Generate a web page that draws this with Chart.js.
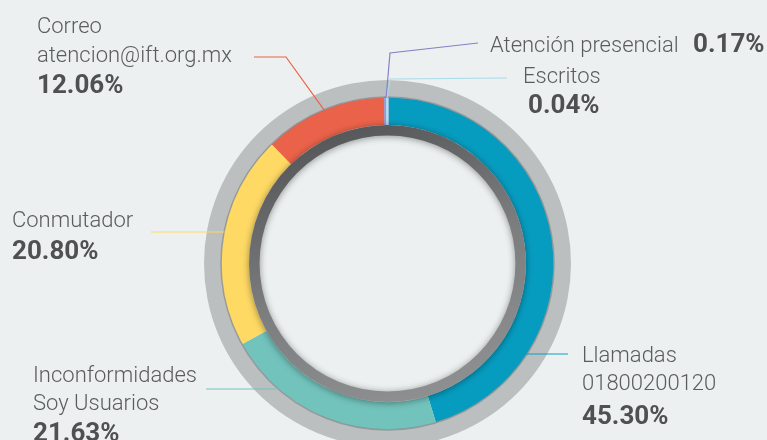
<!DOCTYPE html>
<html><head><meta charset="utf-8">
<script src="https://cdn.jsdelivr.net/npm/chart.js@4.4.0/dist/chart.umd.min.js"></script>
<style>
html,body{margin:0;padding:0;background:#ecf0f1;overflow:hidden;}
#wrap{width:767px;height:440px;position:relative;}
canvas{display:block;}
</style></head><body>
<div id="wrap"><canvas id="c" width="767" height="440"></canvas></div>
<script>
// ---- data ----
const categories = ['Llamadas 01800200120', 'Inconformidades Soy Usuarios', 'Conmutador', 'Correo atencion@ift.org.mx', 'Atención presencial', 'Escritos'];
const labelLines = [['Llamadas', '01800200120'], ['Inconformidades', 'Soy Usuarios'], ['Conmutador'], ['Correo', 'atencion@ift.org.mx'], ['Atención presencial'], ['Escritos']];
const shares = [45.30, 21.63, 20.80, 12.06, 0.17, 0.04];
const percentLabels = ['45.30%', '21.63%', '20.80%', '12.06%', '0.17%', '0.04%'];
const sliceColors = ['#069cc0', '#72c3bc', '#fed964', '#ea6249', '#9d9ad2', '#b3dff0'];
const leaderColors = ['#0d9dc2', '#72c3bc', '#fed964', '#ea6249', '#8682c6', '#a9dbeb'];

// ---- label layout (pixel positions) ----
const labelLayout = [
  {x: 582, ys: [362, 390], px: 582, py: 424, leader: {kind: 'h', x: 568, y: 354}},
  {x: 33, ys: [382, 410], px: 33, py: 441, leader: {kind: 'h', x: 206, y: 389}},
  {x: 12, ys: [227], px: 12, py: 259, leader: {kind: 'h', x: 151, y: 232}},
  {x: 37, ys: [33, 62], px: 37, py: 93, leader: {kind: 'elbow', pts: [[254, 57], [286, 57]]}},
  {x: 490, ys: [52], px: 693, py: 52, leader: {kind: 'elbow', pts: [[478, 43], [390, 53]]}},
  {x: 523, ys: [83], px: 528, py: 113, leader: {kind: 'elbow', pts: [[507, 78], [390, 79]]}}
];

const TAU = Math.PI * 2;
function ring(ctx, x, y, r1, r2) {
  ctx.beginPath();
  ctx.arc(x, y, r2, 0, TAU, false);
  ctx.arc(x, y, r1, 0, TAU, true);
  ctx.closePath();
}

const framePlugin = {
  id: 'frame',
  beforeDatasetsDraw(chart) {
    const ctx = chart.ctx;
    const a = chart.getDatasetMeta(0).data[0];
    ctx.save();
    ring(ctx, a.x, a.y, a.outerRadius - 1, a.outerRadius + 17.5);
    ctx.fillStyle = '#bcbfc0';
    ctx.fill();
    ctx.restore();
  },
  afterDatasetsDraw(chart) {
    const ctx = chart.ctx;
    const meta = chart.getDatasetMeta(0);
    const a = meta.data[0];
    const cx = a.x, cy = a.y, R = a.outerRadius, r = a.innerRadius;
    // thin edge line between gray frame and colored ring
    ctx.save();
    ctx.beginPath();
    ctx.arc(cx, cy, R + 0.5, 0, TAU);
    ctx.strokeStyle = 'rgba(125,128,130,0.6)';
    ctx.lineWidth = 1.5;
    ctx.stroke();
    ctx.restore();
    // dark inner ring with shading
    ctx.save();
    const g = ctx.createLinearGradient(cx - r * 0.35, cy - r, cx + r * 0.35, cy + r);
    g.addColorStop(0, '#545658');
    g.addColorStop(0.5, '#7a7c7e');
    g.addColorStop(1, '#8e9092');
    ctx.shadowColor = 'rgba(0,0,0,0.4)';
    ctx.shadowBlur = 7;
    ctx.shadowOffsetY = 1;
    ring(ctx, cx, cy, r - 10.5, r);
    ctx.fillStyle = g;
    ctx.fill();
    ctx.restore();

    // leader lines
    ctx.save();
    ctx.lineWidth = 1.2;
    labelLayout.forEach((L, i) => {
      const el = meta.data[i];
      ctx.strokeStyle = leaderColors[i];
      ctx.beginPath();
      if (L.leader.kind === 'h') {
        const dy = L.leader.y - cy;
        const dx = Math.sqrt(Math.max(R * R - dy * dy, 0));
        const ex = L.leader.x < cx ? cx - dx : cx + dx;
        ctx.moveTo(L.leader.x, L.leader.y);
        ctx.lineTo(ex, L.leader.y);
      } else {
        const mid = (el.startAngle + el.endAngle) / 2;
        const ex = cx + Math.cos(mid) * (R + 0.5);
        const ey = cy + Math.sin(mid) * (R + 0.5);
        ctx.moveTo(L.leader.pts[0][0], L.leader.pts[0][1]);
        for (let k = 1; k < L.leader.pts.length; k++) ctx.lineTo(L.leader.pts[k][0], L.leader.pts[k][1]);
        ctx.lineTo(ex, ey);
      }
      ctx.stroke();
    });
    ctx.restore();

    // texts
    ctx.save();
    ctx.textBaseline = 'alphabetic';
    ctx.textAlign = 'left';
    labelLayout.forEach((L, i) => {
      ctx.fillStyle = '#5b5c5e';
      ctx.font = '300 22px Roboto';
      labelLines[i].forEach((t, k) => ctx.fillText(t, L.x, L.ys[k]));
      ctx.fillStyle = '#4f5052';
      ctx.font = 'bold 26px Roboto';
      ctx.fillText(percentLabels[i], L.px, L.py);
    });
    ctx.restore();
  }
};

new Chart(document.getElementById('c'), {
  type: 'doughnut',
  data: {
    labels: categories,
    datasets: [{
      data: shares,
      backgroundColor: sliceColors,
      borderColor: sliceColors,
      borderWidth: [0, 0, 0, 0, 3, 2]
    }]
  },
  options: {
    responsive: false,
    animation: false,
    events: [],
    radius: 166,
    cutout: '83.4%',
    rotation: 0,
    layout: {padding: {left: 8, top: 87, right: 0, bottom: 0}},
    plugins: {legend: {display: false}, tooltip: {enabled: false}}
  },
  plugins: [framePlugin]
});
</script>
</body></html>
